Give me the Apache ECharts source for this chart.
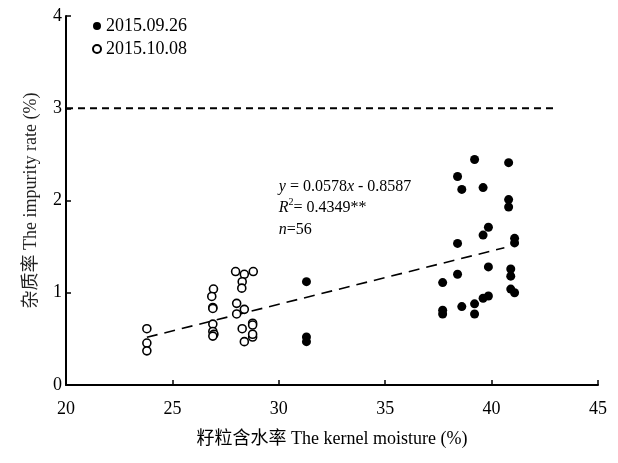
<!DOCTYPE html>
<html>
<head>
<meta charset="utf-8">
<script src="https://cdn.jsdelivr.net/npm/echarts@6/dist/echarts.min.js"></script>
<style>
  html, body { margin: 0; padding: 0; background: #fff; }
  #chart { width: 618px; height: 463px; }
</style>
</head>
<body>
<div id="chart"></div>
<script>
// 2015.09.26 (filled) - [moisture, impurity]
const filledPoints = [
  [31.3, 1.12], [31.3, 0.52], [31.3, 0.47],
  [37.7, 1.11], [37.7, 0.81], [37.7, 0.77],
  [38.4, 2.26], [38.4, 1.535], [38.4, 1.20],
  [38.6, 2.12], [38.6, 0.85],
  [39.2, 2.445], [39.2, 0.88], [39.2, 0.77],
  [39.6, 2.14], [39.6, 1.625], [39.6, 0.94],
  [39.85, 1.71], [39.85, 1.28], [39.85, 0.965],
  [40.8, 2.41], [40.8, 2.01], [40.8, 1.93],
  [40.9, 1.257], [40.9, 1.18], [40.9, 1.04],
  [41.08, 1.59], [41.08, 1.54], [41.08, 1.00]
]

// 2015.10.08 (open)
const openPoints = [
  [23.8, 0.61], [23.8, 0.455], [23.8, 0.37],
  [26.93, 1.04], [26.85, 0.96], [26.9, 0.84], [26.9, 0.83], [26.9, 0.66],
  [26.9, 0.58], [26.95, 0.55], [26.9, 0.53],
  [27.97, 1.23], [28.38, 1.20], [28.8, 1.23], [28.28, 1.12], [28.26, 1.05],
  [28.02, 0.885], [28.38, 0.82], [28.02, 0.77], [28.28, 0.61], [28.38, 0.47],
  [28.77, 0.52], [28.77, 0.55], [28.77, 0.67], [28.77, 0.65]
]

const fitLine = [[23.8, 0.517], [40.6, 1.488]]
const limitLine = [[20, 3], [43, 3]]

const xTicks = [20, 25, 30, 35, 40, 45]
const yTicks = [0, 1, 2, 3, 4]

const legendNames = ["2015.09.26", "2015.10.08"]
const eqAnchor = [30, 2.27]

const font = "'Liberation Serif', 'Times New Roman', 'Noto Sans CJK SC', serif"

const chart = echarts.init(document.getElementById("chart"))

const option = {
  animation: false,
  textStyle: { fontFamily: font, color: "#000" },
  grid: { left: 66, right: 20, top: 16, bottom: 78 },
  legend: {
    data: legendNames,
    orient: "vertical",
    left: 92,
    top: 17,
    padding: 0,
    itemWidth: 8,
    itemHeight: 8,
    itemGap: 5,
    textStyle: { fontFamily: font, fontSize: 18, color: "#000" }
  },
  xAxis: {
    type: "value",
    min: xTicks[0],
    max: xTicks[xTicks.length - 1],
    interval: 5,
    name: "籽粒含水率 The kernel moisture (%)",
    nameLocation: "middle",
    nameGap: 45,
    nameTextStyle: { fontFamily: font, fontSize: 18, color: "#000" },
    axisLine: { lineStyle: { color: "#000", width: 2 } },
    axisTick: { inside: true, length: 5, lineStyle: { color: "#000", width: 1.5 } },
    axisLabel: { fontFamily: font, fontSize: 18, color: "#000", margin: 15 },
    splitLine: { show: false }
  },
  yAxis: {
    type: "value",
    min: yTicks[0],
    max: yTicks[yTicks.length - 1],
    interval: 1,
    name: "杂质率 The impurity rate (%)",
    nameLocation: "middle",
    nameGap: 26,
    nameTextStyle: { fontFamily: font, fontSize: 18, color: "#222" },
    axisLine: { lineStyle: { color: "#000", width: 2 } },
    axisTick: { inside: true, length: 5, lineStyle: { color: "#000", width: 1.5 } },
    axisLabel: { fontFamily: font, fontSize: 18, color: "#000", margin: 4 },
    splitLine: { show: false }
  },
  series: [
    {
      name: legendNames[0],
      type: "scatter",
      data: filledPoints,
      symbol: "circle",
      symbolSize: 9,
      itemStyle: { color: "#000", opacity: 1 },
      z: 3
    },
    {
      name: legendNames[1],
      type: "scatter",
      data: openPoints,
      symbol: "circle",
      symbolSize: 8,
      itemStyle: { color: "#fff", borderColor: "#000", borderWidth: 1.6, opacity: 1 },
      z: 3
    },
    {
      name: "fit",
      type: "line",
      data: fitLine,
      symbol: "none",
      lineStyle: { color: "#000", width: 1.6, type: [11, 7] },
      z: 2
    },
    {
      name: "limit",
      type: "line",
      data: limitLine,
      symbol: "none",
      lineStyle: { color: "#000", width: 2, type: [7, 5] },
      z: 2
    }
  ]
}

chart.setOption(option)

// 回归方程文字
const anchor = chart.convertToPixel({ gridIndex: 0 }, eqAnchor)
chart.setOption({
  graphic: [{
    type: "text",
    left: anchor[0],
    top: anchor[1],
    style: {
      text: "{i|y} = 0.0578{i|x} - 0.8587\n{i|R}{s|2}= 0.4349**\n{i|n}=56",
      font: "16px " + font,
      fill: "#000",
      lineHeight: 21.5,
      rich: {
        i: { fontStyle: "italic", fontFamily: font, fontSize: 16, lineHeight: 21.5 },
        s: { fontFamily: font, fontSize: 10, verticalAlign: "top", lineHeight: 21.5, padding: [0, 0, 8, 0] }
      }
    }
  }]
})
</script>
</body>
</html>
